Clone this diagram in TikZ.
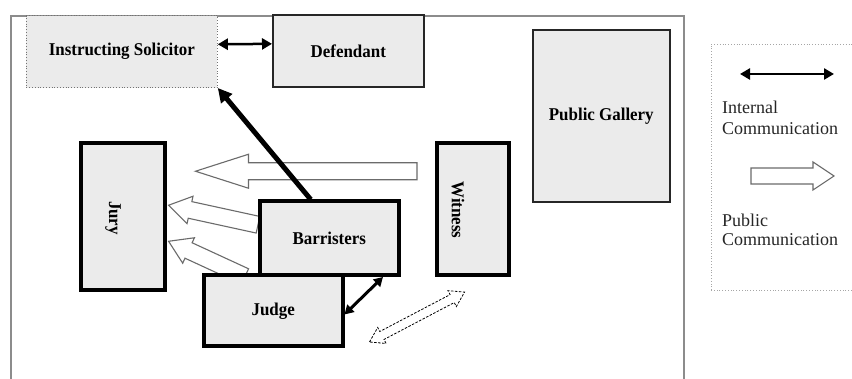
\documentclass[tikz,border=0pt]{standalone}
\usepackage{fontspec}
\setmainfont{Liberation Serif}
\newfontfamily\labfont[FakeStretch=0.94]{Liberation Serif}
\usetikzlibrary{arrows.meta,calc}
\pgfdeclarelayer{bg}
\pgfsetlayers{bg,main}
\definecolor{boxfill}{gray}{0.92}
\definecolor{framegray}{gray}{0.55}
\definecolor{arrgray}{gray}{0.42}
\newcommand\blockarrow[6][]{%
  \path[#1] let \p1=(#2), \p2=(#3), \n1={atan2(\y2-\y1,\x2-\x1)}, \n2={veclen(\x2-\x1,\y2-\y1)} in
    [shift={(\p1)}, rotate=\n1] (0,-#4) -- ({\n2-#6},-#4) -- ({\n2-#6},-#5) -- (\n2,0)
    -- ({\n2-#6},#5) -- ({\n2-#6},#4) -- (0,#4) -- cycle;}
\newcommand\dblockarrow[6][]{%
  \path[#1] let \p1=(#2), \p2=(#3), \n1={atan2(\y2-\y1,\x2-\x1)}, \n2={veclen(\x2-\x1,\y2-\y1)} in
    [shift={(\p1)}, rotate=\n1] (0,0) -- (#6,#5) -- (#6,#4) -- ({\n2-#6},#4) -- ({\n2-#6},#5) -- (\n2,0)
    -- ({\n2-#6},-#5) -- ({\n2-#6},-#4) -- (#6,-#4) -- (#6,-#5) -- cycle;}
\tikzset{
  room/.style={draw=framegray, line width=1.2pt},
  lab/.style={font=\labfont\bfseries\fontsize{18}{20}\selectfont, inner sep=0pt},
  thinbox/.style={lab, draw=black!85, line width=1.6pt, fill=boxfill, anchor=south west},
  thickbox/.style={thinbox, draw=black, line width=3.5pt},
  solbox/.style={lab, draw=black!55, dotted, line width=0.8pt, fill=boxfill, anchor=south west},
  internal/.style={line width=2.5pt, {Triangle[length=10pt,width=11pt]}-{Triangle[length=10pt,width=11pt]}},
  pubarrow/.style={draw=arrgray, line width=1.1pt, fill=white, line join=miter},
  dasharrow/.style={draw=black, line width=0.8pt, dash pattern=on 2.5pt off 1.5pt, fill=white},
  legendbox/.style={draw=gray!70, dotted, line width=0.8pt},
  legendtext/.style={font=\fontsize{18}{21}\selectfont, text=black!85, anchor=west, inner sep=0pt},
}
\begin{document}
\begin{tikzpicture}[x=1pt,y=1pt]
\useasboundingbox (0,0) rectangle (852,379);
\clip (0,0) rectangle (852,379);
\begin{pgfonlayer}{bg}
\fill[white] (0,0) rectangle (852,379);
\end{pgfonlayer}
% room frame
\draw[room] (11,-5) -- (11,363) -- (684,363) -- (684,-5);
% legend
\draw[legendbox] (711,89) rectangle (870,335);
\coordinate (li1) at (740,305);
\coordinate (li2) at (834,305);
\draw[internal] (li1) -- (li2);
\node[legendtext] (lt1) at (722,272) {Internal};
\node[legendtext] (lt2) at (722,250) {Communication};
\coordinate (lp1) at (751,203);
\coordinate (lp2) at (834,203);
\blockarrow[pubarrow]{lp1}{lp2}{8}{14}{21}
\node[legendtext] (lt3) at (722,159) {Public};
\node[legendtext] (lt4) at (722,139) {Communication};
% boxes
\node[solbox, minimum width=191pt, minimum height=72pt] (sol) at (26,291) {Instructing Solicitor};
\node[thinbox, minimum width=151pt, minimum height=72pt] (def) at (272,291) {Defendant};
\node[thinbox, minimum width=137pt, minimum height=172pt] (gal) at (532,176) {Public Gallery};
\node[thickbox, minimum width=72pt, minimum height=132pt] (wit) at (435,102) {};
\node[thickbox, minimum width=84pt, minimum height=147pt] (jury) at (79,87) {};
\node[thickbox, minimum width=139pt, minimum height=74pt] (barr) at (258,102) {Barristers};
\node[thickbox, minimum width=139pt, minimum height=71pt] (judge) at (202,31) {Judge};
\node[lab, rotate=-90] (jurylab) at (113,161) {Jury};
\node[lab, rotate=-90] (witlab) at (458,169) {Witness};
% public communication arrows (behind)
\coordinate (pubtail) at ($(wit.west)+(-18,38)$);
\coordinate (pubtip) at ($(jury.east)+(29,45.5)$);
\coordinate (bj1tail) at ($(barr.west)+(0,13.5)$);
\coordinate (bj1tip) at ($(jury.east)+(2,11.5)$);
\coordinate (bj2tail) at ($(judge.north west)+(43,-3)$);
\coordinate (bj2tip) at ($(jury.east)+(2,-24.5)$);
\begin{pgfonlayer}{bg}
\blockarrow[pubarrow]{pubtail}{pubtip}{8.5}{17}{53}
\blockarrow[pubarrow]{bj1tail}{bj1tip}{8.5}{14}{22}
\blockarrow[pubarrow]{bj2tail}{bj2tip}{8.5}{14}{22}
\end{pgfonlayer}
% internal communication
\draw[internal] ($(sol.north east)!0.4!(sol.south east)$) -- ($(def.north west)!0.4!(def.south west)$);
\coordinate (bartop) at ($(barr.north west)!0.37!(barr.north east)$);
\draw[line width=5pt, -{Triangle[length=14pt,width=14pt]}] (bartop) -- (sol.south east);
\coordinate (barbot) at ($(barr.south west)!0.877!(barr.south east)$);
\coordinate (judgeeast) at ($(judge.north east)!0.55!(judge.south east)$);
\draw[line width=3pt, {Triangle[length=9pt,width=10pt]}-{Triangle[length=9pt,width=10pt]}] (barbot) -- (judgeeast);
% judge-witness dashed arrow
\coordinate (jw1) at ($(judge.south east)+(25,6)$);
\coordinate (jw2) at ($(wit.south)+(-8,-15)$);
\dblockarrow[dasharrow]{jw1}{jw2}{4.5}{9}{14}
\end{tikzpicture}
\end{document}
